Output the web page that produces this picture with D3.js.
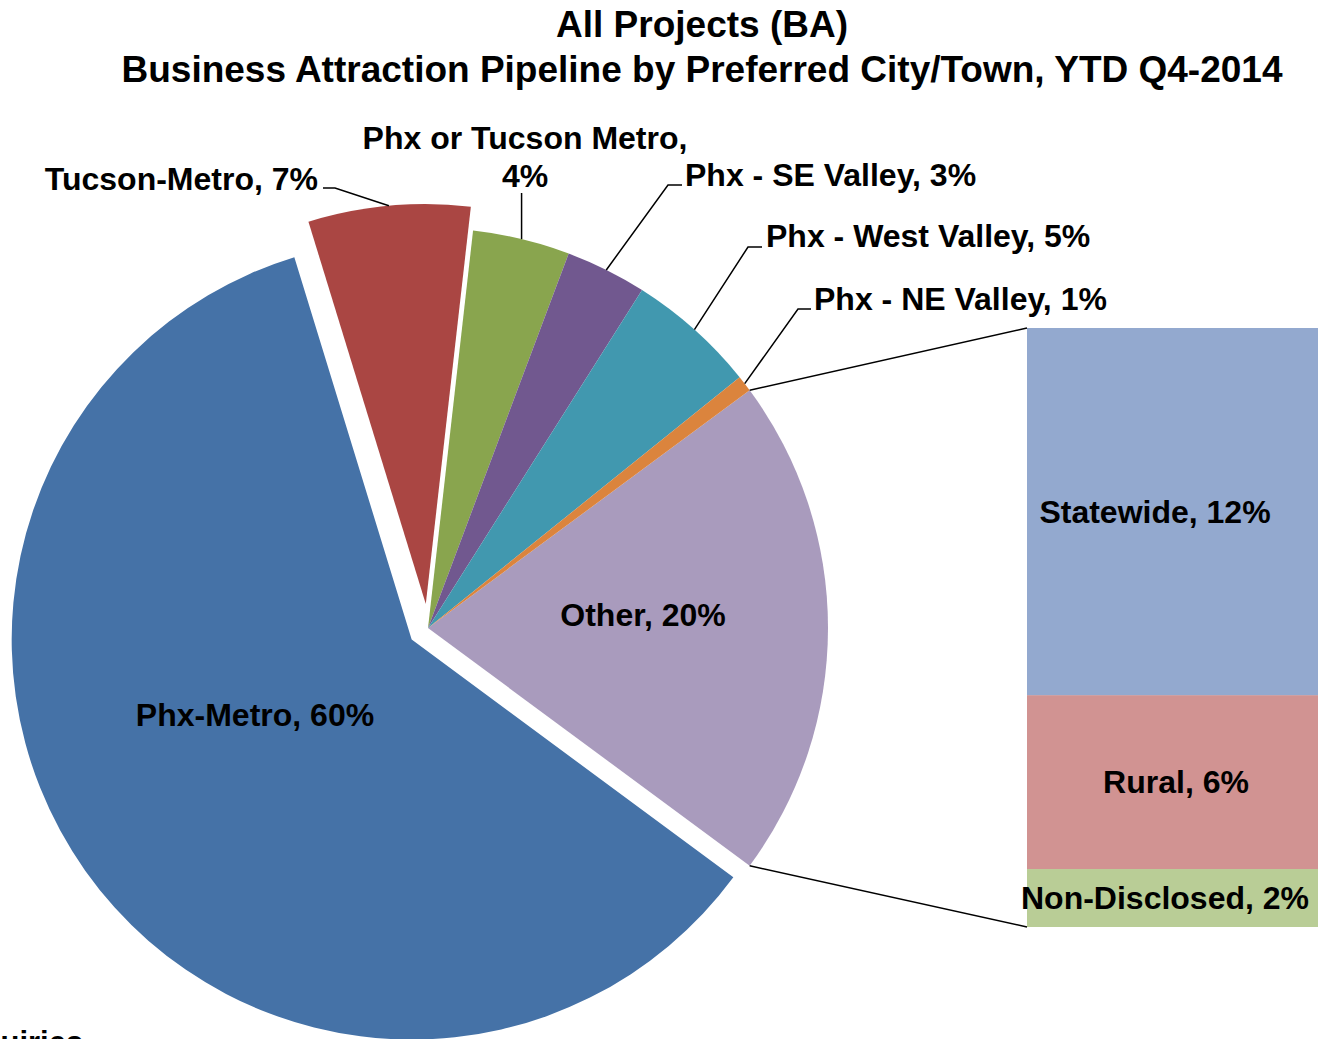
<!DOCTYPE html>
<html>
<head>
<meta charset="utf-8">
<script src="https://cdn.jsdelivr.net/npm/d3@7"></script>
<style>
  body { margin: 0; background: #fff; }
  text { font-family: Arial, "Liberation Sans", sans-serif; font-weight: bold; fill: #000; }
</style>
</head>
<body>
<div id="chart"></div>
<script>

// pie slices (project counts), "Other" is broken out in the bar
var pieNames  = ['Phx-Metro', 'Tucson-Metro', 'Phx or Tucson Metro', 'Phx - SE Valley', 'Phx - West Valley', 'Phx - NE Valley'];
var pieValues = [92, 10, 6, 5, 8, 1];
var pieColors = ['#4572a7', '#aa4643', '#89a54e', '#71588f', '#4198af', '#db843d'];

// breakdown of "Other" (bottom to top)
var barNames  = ['Non-Disclosed', 'Rural', 'Statewide'];
var barValues = [3, 9, 19];
var barColors = ['#b9cd96', '#d19392', '#93a9cf'];
var otherColor = '#a99bbd';

var titleLines = ['All Projects (BA)', 'Business Attraction Pipeline by Preferred City/Town, YTD Q4-2014'];

var width = 1318,
    height = 1039;

var cx = 428, cy = 628, radius = 400;

// exploded slices
var explode = {'Phx-Metro': 20, 'Tucson-Metro': 24};

// label placement (like the manual placement in the original)
var labelPos = {
  'Other':               {x: 643,  y: 626, anchor: 'middle'},
  'Phx-Metro':           {x: 255,  y: 726, anchor: 'middle'},
  'Tucson-Metro':        {x: 318,  y: 190, anchor: 'end',   leader: [[323, 188], [335, 188]]},
  'Phx or Tucson Metro': {x: 525,  y: 149, anchor: 'middle', split: true, leader: [[null, 193]]},
  'Phx - SE Valley':     {x: 685,  y: 186, anchor: 'start', leader: [[682, 185], [668, 185]]},
  'Phx - West Valley':   {x: 766,  y: 247, anchor: 'start', leader: [[762, 247], [748, 247]]},
  'Phx - NE Valley':     {x: 814,  y: 310, anchor: 'start', leader: [[811, 309], [798, 309]]}
};
var barLabelDx = {'Statewide': -21, 'Rural': 0, 'Non-Disclosed': -11};
var fontSize = '32px';

var svg = d3.select('#chart')
  .append('svg')
  .attr('width', width)
  .attr('height', height);

// title
svg.selectAll('.title')
  .data(titleLines)
  .enter()
  .append('text')
  .attr('class', 'title')
  .attr('x', 702)
  .attr('y', function(d, i) { return 37 + i * 45; })
  .attr('text-anchor', 'middle')
  .style('font-size', '37px')
  .text(function(d) { return d; });

var otherTotal = d3.sum(barValues);
var slices = [{name: 'Other', value: otherTotal, color: otherColor}];
pieNames.forEach(function(n, i) {
  slices.push({name: n, value: pieValues[i], color: pieColors[i]});
});
var total = d3.sum(slices, function(d) { return d.value; });

var pct = function(v) { return Math.round(v / total * 100) + '%'; };

// "Other" is centred on 3 o'clock
var otherAngle = otherTotal / total * 2 * Math.PI;
var start = Math.PI / 2 - otherAngle / 2;

var pie = d3.pie()
  .sort(null)
  .startAngle(start)
  .endAngle(start + 2 * Math.PI)
  .value(function(d) { return d.value; });

var arc = d3.arc()
  .innerRadius(0)
  .outerRadius(radius);

var arcs = pie(slices);

var offset = function(d) {
  var e = explode[d.data.name] || 0;
  var m = (d.startAngle + d.endAngle) / 2;
  return [e * Math.sin(m), -e * Math.cos(m)];
};

var g = svg.append('g')
  .attr('transform', 'translate(' + cx + ',' + cy + ')');

g.selectAll('path.slice')
  .data(arcs)
  .enter()
  .append('path')
  .attr('class', 'slice')
  .attr('d', arc)
  .attr('transform', function(d) { return 'translate(' + offset(d) + ')'; })
  .style('fill', function(d) { return d.data.color; });

// bar of "Other"
var barX = 1027, barW = 300;
var y = d3.scaleLinear()
  .domain([0, otherTotal])
  .range([927, 328]);

var stacked = [];
var acc = 0;
barValues.forEach(function(v, i) {
  stacked.push({name: barNames[i], value: v, color: barColors[i], y0: acc, y1: acc + v});
  acc += v;
});

svg.selectAll('rect.bar')
  .data(stacked)
  .enter()
  .append('rect')
  .attr('class', 'bar')
  .attr('x', barX)
  .attr('width', barW)
  .attr('y', function(d) { return y(d.y1); })
  .attr('height', function(d) { return y(d.y0) - y(d.y1); })
  .style('fill', function(d) { return d.color; });

svg.selectAll('text.barlabel')
  .data(stacked)
  .enter()
  .append('text')
  .attr('class', 'barlabel')
  .attr('x', function(d) { return barX + barW / 2 - 1 + barLabelDx[d.name]; })
  .attr('y', function(d) { return (y(d.y0) + y(d.y1)) / 2 + 11; })
  .attr('text-anchor', 'middle')
  .style('font-size', fontSize)
  .text(function(d) { return d.name + ', ' + pct(d.value); });

// connector lines from "Other" slice to the bar
var otherArc = arcs[0];
var edgePoint = function(a, r) {
  return [cx + r * Math.sin(a), cy - r * Math.cos(a)];
};
var p0 = edgePoint(otherArc.startAngle, radius),
    p1 = edgePoint(otherArc.endAngle, radius);

svg.append('line')
  .attr('x1', p0[0]).attr('y1', p0[1])
  .attr('x2', barX).attr('y2', y(otherTotal))
  .style('stroke', '#000').style('stroke-width', 1.5);
svg.append('line')
  .attr('x1', p1[0]).attr('y1', p1[1])
  .attr('x2', barX).attr('y2', y(0))
  .style('stroke', '#000').style('stroke-width', 1.5);

// slice labels and leader lines
arcs.forEach(function(d) {
  var pos = labelPos[d.data.name];
  var label = d.data.name + ', ' + pct(d.data.value);

  if (pos.leader) {
    var m = (d.startAngle + d.endAngle) / 2;
    var off = offset(d);
    var end = edgePoint(m, radius);
    end = [end[0] + off[0], end[1] + off[1]];
    var pts = pos.leader.map(function(p) { return [p[0] === null ? end[0] : p[0], p[1]]; });
    pts.push(end);
    svg.append('path')
      .attr('d', d3.line()(pts))
      .style('fill', 'none')
      .style('stroke', '#000')
      .style('stroke-width', 1.5);
  }

  var t = svg.append('text')
    .attr('x', pos.x)
    .attr('y', pos.y)
    .attr('text-anchor', pos.anchor)
    .style('font-size', fontSize);

  if (pos.split) {
    t.append('tspan').attr('x', pos.x).text(d.data.name + ',');
    t.append('tspan').attr('x', pos.x).attr('dy', 38).text(pct(d.data.value));
  } else {
    t.text(label);
  }
});

// fragment of other slide text at the bottom edge
svg.append('text')
  .attr('x', -46)
  .attr('y', 1053)
  .style('font-size', '31px')
  .text('Inquiries');

</script>
</body>
</html>
